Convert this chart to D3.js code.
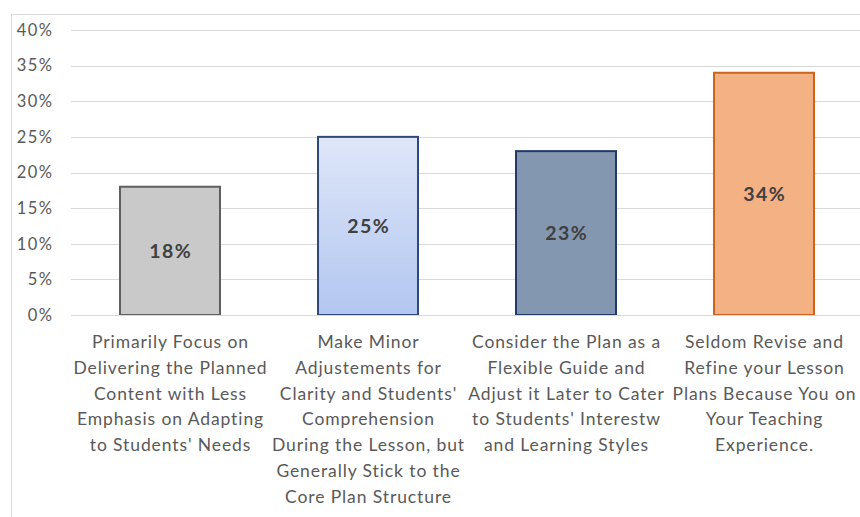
<!DOCTYPE html>
<html>
<head>
<meta charset="utf-8">
<script src="https://cdn.jsdelivr.net/npm/d3@7"></script>
<style>
  html, body { margin: 0; padding: 0; background: #fff; }
  svg { display: block; }
</style>
</head>
<body>
<svg id="chart" width="860" height="517"></svg>
<script>
// Category labels, one entry per wrapped line
const categories = [
  ["Primarily Focus on", "Delivering the Planned", "Content with Less", "Emphasis on Adapting", "to Students' Needs"],
  ["Make Minor", "Adjustements for", "Clarity and Students'", "Comprehension", "During the Lesson, but", "Generally Stick to the", "Core Plan Structure"],
  ["Consider the Plan as a", "Flexible Guide and", "Adjust it Later to Cater", "to Students' Interestw", "and Learning Styles"],
  ["Seldom Revise and", "Refine your Lesson", "Plans Because You on", "Your Teaching", "Experience."]
];
const values = [18, 25, 23, 34];
const yTicks = [0, 5, 10, 15, 20, 25, 30, 35, 40];

const fills = ["#c9c9c9", "url(#blueGrad)", "#8497b0", "#f4b183"];
const strokes = ["#5f5f5f", "#2f4a7a", "#22396a", "#c9651e"];

const svg = d3.select("#chart");
const font = "Lato, 'Open Sans', sans-serif";

// Outer chart frame
svg.append("rect")
  .attr("x", 11.5).attr("y", 14.5)
  .attr("width", 860).attr("height", 520)
  .attr("fill", "#fff").attr("stroke", "#d9d9d9").attr("stroke-width", 1);

const defs = svg.append("defs");
const grad = defs.append("linearGradient").attr("id", "blueGrad")
  .attr("x1", 0).attr("y1", 0).attr("x2", 0).attr("y2", 1);
grad.append("stop").attr("offset", "0%").attr("stop-color", "#dfe7f9");
grad.append("stop").attr("offset", "100%").attr("stop-color", "#b2c6f0");

const margin = { left: 71, right: 860, top: 30, bottom: 315 };

const x = d3.scaleBand()
  .domain(d3.range(categories.length))
  .range([margin.left, margin.left + 198 * 4])
  .paddingInner(0.495)
  .paddingOuter(0.2475);

const y = d3.scaleLinear().domain([0, 40]).range([margin.bottom, margin.top]);

// Gridlines
svg.append("g")
  .selectAll("line")
  .data(yTicks.filter(t => t > 0))
  .join("line")
  .attr("x1", margin.left).attr("x2", margin.right)
  .attr("y1", d => Math.round(y(d)) + 0.5).attr("y2", d => Math.round(y(d)) + 0.5)
  .attr("stroke", "#d9d9d9").attr("stroke-width", 1);

// Y axis labels
const yAxis = d3.axisLeft(y).tickValues(yTicks).tickFormat(d => d + "%").tickSize(0).tickPadding(0);
const gy = svg.append("g").attr("transform", "translate(53.5,0)").call(yAxis);
gy.select(".domain").remove();
gy.selectAll("text")
  .attr("fill", "#595959")
  .style("font-family", font)
  .style("font-size", "16.5px")
  .style("letter-spacing", "1.5px");

// Bars
svg.append("g")
  .selectAll("rect")
  .data(values)
  .join("rect")
  .attr("x", (d, i) => x(i))
  .attr("y", d => y(d))
  .attr("width", x.bandwidth())
  .attr("height", d => y(0) - y(d))
  .attr("fill", (d, i) => fills[i])
  .attr("stroke", (d, i) => strokes[i])
  .attr("stroke-width", 2);

// Baseline
svg.append("line")
  .attr("x1", margin.left).attr("x2", margin.right)
  .attr("y1", y(0) + 0.5).attr("y2", y(0) + 0.5)
  .attr("stroke", "#d9d9d9").attr("stroke-width", 1);

// Value labels in the middle of each bar
svg.append("g")
  .selectAll("text")
  .data(values)
  .join("text")
  .attr("x", (d, i) => x(i) + x.bandwidth() / 2 + 0.7)
  .attr("y", d => (y(d) + y(0)) / 2)
  .attr("dy", "0.35em")
  .attr("text-anchor", "middle")
  .attr("fill", "#404040")
  .style("font-family", font)
  .style("font-weight", "bold")
  .style("font-size", "19.5px")
  .style("letter-spacing", "1.4px")
  .text(d => d + "%");

// Category labels
const cat = svg.append("g")
  .selectAll("text")
  .data(categories)
  .join("text")
  .attr("x", (d, i) => x(i) + x.bandwidth() / 2 + 0.5)
  .attr("y", 348)
  .attr("text-anchor", "middle")
  .attr("fill", "#595959")
  .style("font-family", font)
  .style("font-size", "17.5px")
  .style("letter-spacing", "0.9px");
cat.selectAll("tspan")
  .data(d => d)
  .join("tspan")
  .attr("x", function () { return d3.select(this.parentNode).attr("x"); })
  .attr("dy", (d, i) => i === 0 ? 0 : 25.8)
  .text(d => d);
</script>
</body>
</html>
